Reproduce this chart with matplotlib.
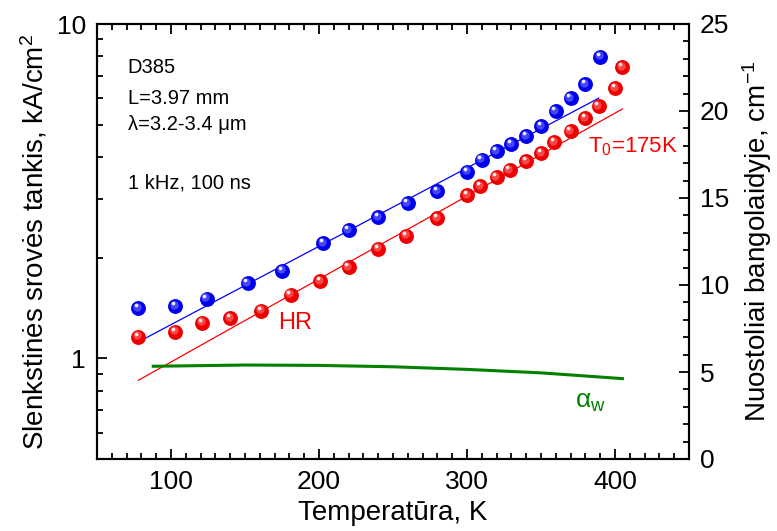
import matplotlib
matplotlib.use('Agg')
import matplotlib.pyplot as plt
from matplotlib.ticker import FixedLocator, MultipleLocator, NullFormatter, LogLocator
from matplotlib.transforms import offset_copy

plt.rcParams['font.family'] = ['Liberation Sans', 'DejaVu Sans']
plt.rcParams['mathtext.fontset'] = 'custom'
plt.rcParams['mathtext.rm'] = 'Liberation Sans'
plt.rcParams['mathtext.it'] = 'Liberation Sans:italic'

# threshold current density, blue series
t_blue = [78, 103, 124, 152, 175, 203, 220, 240, 260, 280,
          300, 310, 320, 330, 340, 350, 360, 370, 380, 390]
j_blue = [1.41, 1.43, 1.51, 1.68, 1.83, 2.21, 2.42, 2.64, 2.91, 3.16,
          3.61, 3.92, 4.17, 4.37, 4.62, 4.95, 5.49, 6.00, 6.61, 7.97]

# threshold current density, HR (red) series
t_red = [78, 103, 121, 140, 161, 181, 201, 220, 240, 259, 280, 300,
         309, 320, 329, 340, 350, 359, 370, 380, 389, 400, 405]
j_red = [1.16, 1.20, 1.28, 1.32, 1.39, 1.55, 1.70, 1.87, 2.13, 2.33, 2.62, 3.08,
         3.27, 3.48, 3.65, 3.89, 4.11, 4.43, 4.78, 5.23, 5.68, 6.43, 7.43]

# exponential fit lines (straight on log scale), end points
fit_blue_t = [78, 389]
fit_blue_j = [1.12, 6.0]
fit_red_t = [78, 405]
fit_red_j = [0.86, 5.57]

# waveguide losses (right axis)
t_loss = [88, 150, 200, 250, 300, 350, 405]
a_loss = [5.33, 5.40, 5.38, 5.30, 5.15, 4.95, 4.62]


def spheres(ax, x, y, color, light):
    fig = ax.figure
    ax.scatter(x, y, s=115, color=color, linewidths=0, zorder=3)
    tr1 = offset_copy(ax.transData, fig=fig, x=-1.5, y=1.5, units='dots')
    ax.scatter(x, y, s=36, color=light, linewidths=0, zorder=4, transform=tr1, alpha=0.55)
    tr2 = offset_copy(ax.transData, fig=fig, x=-2.5, y=3.0, units='dots')
    ax.scatter(x, y, s=7, color='white', linewidths=0, zorder=5, transform=tr2, alpha=0.9)


fig = plt.figure(figsize=(7.77, 5.31), dpi=100)
ax = fig.add_axes([97 / 777, 1 - 459 / 531, 592 / 777, 435 / 531])

ax.plot(fit_blue_t, fit_blue_j, color='#0000ff', lw=0.9, zorder=2)
ax.plot(fit_red_t, fit_red_j, color='#ff0000', lw=0.9, zorder=2)
spheres(ax, t_blue, j_blue, '#0000ee', '#8080ff')
spheres(ax, t_red, j_red, '#ee0000', '#ff8080')

ax.set_yscale('log')
ax.set_ylim(0.5, 10)
ax.set_xlim(50, 450)
ax.xaxis.set_major_locator(MultipleLocator(100))
ax.xaxis.set_minor_locator(MultipleLocator(10))
ax.yaxis.set_major_locator(FixedLocator([1, 10]))
ax.yaxis.set_minor_locator(LogLocator(base=10, subs=range(2, 10)))
ax.yaxis.set_minor_formatter(NullFormatter())
ax.set_yticklabels(['1', '10'])

ax2 = ax.twinx()
ax2.plot(t_loss, a_loss, color='#008000', lw=2.2)
ax2.set_ylim(0, 25)
ax2.yaxis.set_major_locator(MultipleLocator(5))
ax2.yaxis.set_minor_locator(MultipleLocator(1))

for a in (ax, ax2):
    for s in a.spines.values():
        s.set_linewidth(1.5)
ax.tick_params(which='both', direction='in', top=True, right=False, width=1.3, labelsize=19)
ax.tick_params(which='major', length=7, pad=8)
ax.tick_params(which='minor', length=4)
ax2.tick_params(which='both', direction='in', width=1.3, labelsize=19)
ax2.tick_params(which='major', length=7, pad=8)
ax2.tick_params(which='minor', length=4)

ax.set_xlabel('Temperatūra, K', fontsize=20, labelpad=4)
ax.set_ylabel('Slenkstinės srovės tankis, kA/cm$^2$', fontsize=20, labelpad=5)
ax2.set_ylabel('Nuostoliai bangolaidyje, cm$^{-1}$', fontsize=20, labelpad=8)

ax.text(0.052, 0.899, 'D385', transform=ax.transAxes, fontsize=14.5, va='center')
ax.text(0.052, 0.828, 'L=3.97 mm', transform=ax.transAxes, fontsize=14.5, va='center')
ax.text(0.052, 0.770, 'λ=3.2-3.4 μm', transform=ax.transAxes, fontsize=14.5, va='center')
ax.text(0.052, 0.634, '1 kHz, 100 ns', transform=ax.transAxes, fontsize=14.5, va='center')
ax.text(0.306, 0.313, 'HR', transform=ax.transAxes, fontsize=17, va='center', color='#ff0000')
ax.text(0.829, 0.717, 'T$_0$=175K', transform=ax.transAxes, fontsize=16, va='center', color='#ff0000')
ax.text(0.807, 0.131, 'α$_{\\rm w}$', transform=ax.transAxes, fontsize=19, va='center', color='#008000')

fig.savefig('out.png', dpi=100)
